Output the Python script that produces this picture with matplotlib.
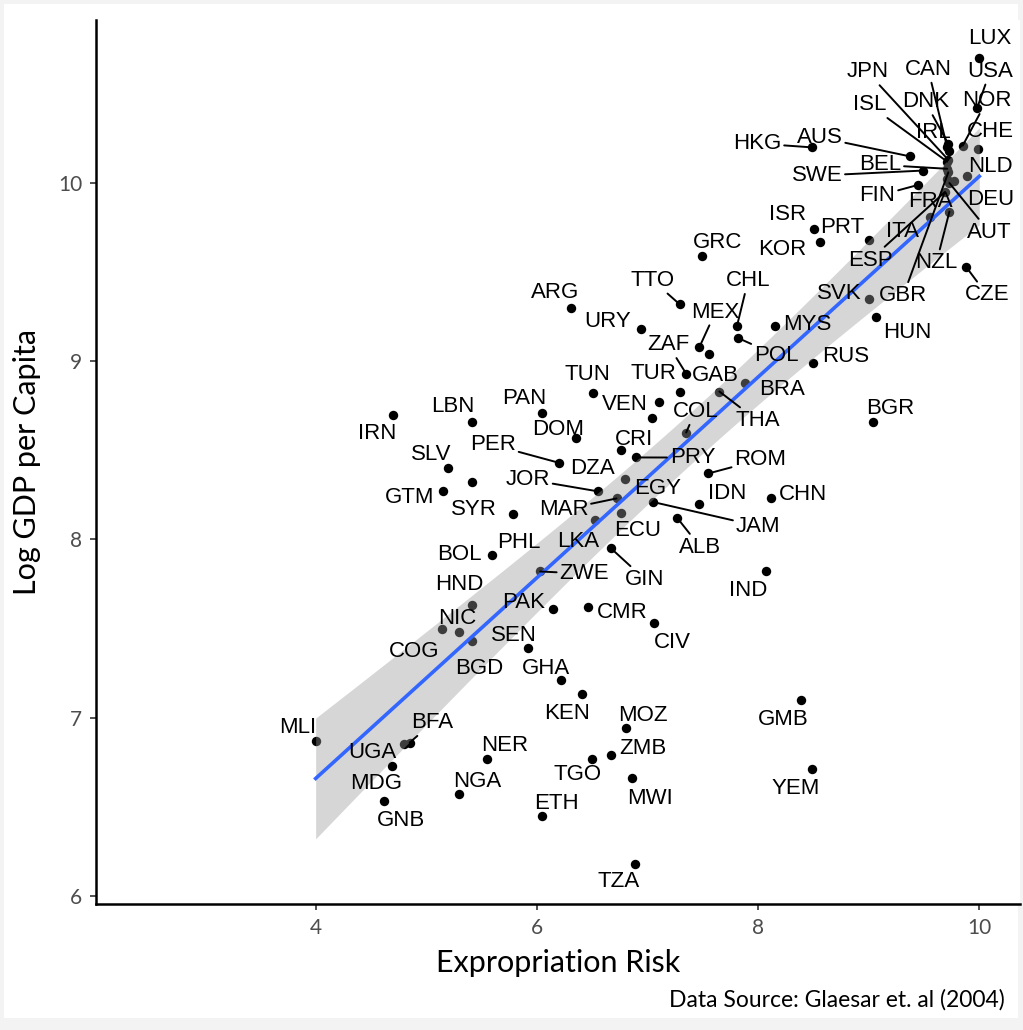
import numpy as np
import matplotlib.pyplot as plt
from matplotlib.patches import Rectangle

# data
countries = ['LUX', 'USA', 'NOR', 'CHE', 'NLD', 'DEU', 'AUT', 'FRA', 'ITA', 'ESP',
             'NZL', 'GBR', 'CZE', 'SVK', 'HUN', 'JPN', 'CAN', 'ISL', 'DNK', 'IRL',
             'BEL', 'SWE', 'FIN', 'AUS', 'HKG', 'ISR', 'PRT', 'KOR', 'GRC', 'ARG',
             'TTO', 'CHL', 'MEX', 'URY', 'MYS', 'ZAF', 'POL', 'GAB', 'RUS', 'TUN',
             'TUR', 'BRA', 'THA', 'PAN', 'VEN', 'COL', 'BGR', 'DOM', 'CRI', 'IRN',
             'LBN', 'PER', 'SLV', 'PRY', 'DZA', 'ROM', 'EGY', 'GTM', 'CHN', 'IDN',
             'JOR', 'SYR', 'MAR', 'JAM', 'ECU', 'ALB', 'PHL', 'LKA', 'BOL', 'GIN',
             'ZWE', 'IND', 'HND', 'PAK', 'CMR', 'NIC', 'CIV', 'SEN', 'COG', 'BGD',
             'GHA', 'KEN', 'MOZ', 'GMB', 'MLI', 'BFA', 'NER', 'ZMB', 'UGA', 'TGO',
             'NGA', 'MDG', 'YEM', 'MWI', 'ETH', 'GNB', 'TZA']
risk = [10.00, 9.98, 9.85, 9.99, 9.89, 9.77, 9.73, 9.71, 9.55, 9.69,
        9.73, 9.72, 9.88, 9.00, 9.07, 9.72, 9.71, 9.71, 9.72, 9.73,
        9.71, 9.49, 9.45, 9.37, 8.49, 8.51, 9.00, 8.56, 7.49, 6.31,
        7.29, 7.81, 7.47, 6.94, 8.15, 7.35, 7.82, 7.56, 8.50, 6.51,
        7.29, 7.88, 7.65, 6.05, 7.10, 7.35, 9.04, 6.35, 7.04, 4.70,
        5.41, 6.20, 5.20, 6.90, 6.76, 7.55, 6.80, 5.15, 8.12, 7.47,
        6.55, 5.41, 6.72, 7.05, 6.76, 7.27, 5.78, 6.53, 5.59, 6.67,
        6.03, 8.07, 5.41, 6.15, 6.46, 5.30, 7.06, 5.92, 5.14, 5.41,
        6.22, 6.41, 6.81, 8.39, 4.00, 4.85, 5.55, 6.67, 4.80, 6.50,
        5.30, 4.69, 8.49, 6.86, 6.05, 4.62, 6.89]
log_gdp = [10.70, 10.42, 10.21, 10.19, 10.04, 10.01, 10.00, 10.02, 9.81, 9.95,
           9.84, 10.06, 9.53, 9.35, 9.25, 10.13, 10.20, 10.12, 10.22, 10.18,
           10.08, 10.07, 9.99, 10.15, 10.20, 9.74, 9.68, 9.67, 9.59, 9.30,
           9.32, 9.20, 9.08, 9.18, 9.20, 8.93, 9.13, 9.04, 8.99, 8.82,
           8.83, 8.88, 8.83, 8.71, 8.77, 8.60, 8.66, 8.57, 8.68, 8.70,
           8.66, 8.43, 8.40, 8.46, 8.50, 8.37, 8.34, 8.27, 8.23, 8.20,
           8.27, 8.32, 8.23, 8.21, 8.15, 8.12, 8.14, 8.11, 7.91, 7.95,
           7.82, 7.82, 7.63, 7.61, 7.62, 7.48, 7.53, 7.39, 7.50, 7.43,
           7.21, 7.13, 6.94, 7.10, 6.87, 6.86, 6.77, 6.79, 6.85, 6.77,
           6.57, 6.73, 6.71, 6.66, 6.45, 6.53, 6.18]

# label placement: offset of label centre from its point in pixels (y down), draw segment?
nudge = {
    'LUX': (11, -22, False), 'USA': (13, -39, True), 'NOR': (24, -47, True),
    'CHE': (12, -20, False), 'NLD': (23, -11, False), 'DEU': (37, 16, False),
    'AUT': (40, 47, True), 'FRA': (-17, 20, False), 'ITA': (-27, 13, False),
    'ESP': (-75, 66, True), 'NZL': (-13, 49, True), 'GBR': (-45, 121, True),
    'CZE': (21, 26, True), 'SVK': (-29, -7, False), 'HUN': (31, 14, False),
    'JPN': (-81, -90, True), 'CAN': (-19, -80, True), 'ISL': (-78, -59, True),
    'DNK': (-23, -44, True), 'IRL': (-16, -21, True), 'BEL': (-67, -6, True),
    'SWE': (-106, 3, True), 'FIN': (-41, 9, True), 'AUS': (-90, -21, True),
    'HKG': (-55, -6, True), 'ISR': (-27, -17, False), 'PRT': (-26, -15, False),
    'KOR': (-38, 6, False), 'GRC': (16, -16, False), 'ARG': (-16, -17, False),
    'TTO': (-27, -26, True), 'CHL': (11, -47, True), 'MEX': (16, -37, True),
    'URY': (-33, -10, False), 'MYS': (33, -3, False), 'ZAF': (-18, -31, True),
    'POL': (38, 15, True), 'GAB': (6, 19, False), 'RUS': (32, -9, False),
    'TUN': (-6, -21, False), 'TUR': (-26, -20, False), 'BRA': (37, 5, False),
    'THA': (38, 27, True), 'PAN': (-18, -16, False), 'VEN': (-34, 0, False),
    'COL': (9, -23, True), 'BGR': (17, -15, False), 'DOM': (-17, -10, False),
    'CRI': (-18, 19, False), 'IRN': (-16, 17, False), 'LBN': (-19, -17, False),
    'PER': (-66, -20, True), 'SLV': (-17, -16, False), 'PRY': (56, -2, True),
    'DZA': (-28, 16, False), 'ROM': (52, -16, True), 'EGY': (32, 8, False),
    'GTM': (-33, 4, False), 'CHN': (32, -6, False), 'IDN': (28, -12, False),
    'JOR': (-70, -14, True), 'SYR': (2, 25, False), 'MAR': (-53, 9, True),
    'JAM': (105, 22, True), 'ECU': (17, 16, False), 'ALB': (23, 27, True),
    'PHL': (6, 26, False), 'LKA': (-17, 20, False), 'BOL': (-32, -3, False),
    'GIN': (34, 29, True), 'ZWE': (44, 0, True), 'IND': (-18, 17, False),
    'HND': (-12, -23, False), 'PAK': (-30, -9, False), 'CMR': (34, 3, False),
    'NIC': (-2, -16, False), 'CIV': (18, 17, False), 'SEN': (-14, -15, False),
    'COG': (-28, 21, False), 'BGD': (8, 25, False), 'GHA': (-15, -14, False),
    'KEN': (-15, 17, False), 'MOZ': (16, -15, False), 'GMB': (-18, 18, False),
    'MLI': (-18, -15, False), 'BFA': (23, -22, True), 'NER': (18, -15, False),
    'ZMB': (32, -9, False), 'UGA': (-32, 6, False), 'TGO': (-15, 14, False),
    'NGA': (18, -15, False), 'MDG': (-16, 16, False), 'YEM': (-17, 17, False),
    'MWI': (18, 18, False), 'ETH': (14, -14, False), 'GNB': (17, 17, False),
    'TZA': (-17, 16, False),
}

x = np.array(risk)
y = np.array(log_gdp)

# linear fit with 95% confidence band
b, a = np.polyfit(x, y, 1)
xs = np.linspace(x.min(), x.max(), 100)
n = len(x)
s = np.sqrt(np.sum((y - (a + b * x)) ** 2) / (n - 2))
se = s * np.sqrt(1 / n + (xs - x.mean()) ** 2 / np.sum((x - x.mean()) ** 2))
fit = a + b * xs
tq = 1.985

fig = plt.figure(figsize=(10.23, 10.30), dpi=100, facecolor='#f3f3f3')
fig.patches.append(Rectangle((4 / 1023, 12 / 1030), 1014 / 1023, 1014 / 1030,
                             transform=fig.transFigure, facecolor='white',
                             edgecolor='none', zorder=-10))
ax = fig.add_axes([96 / 1023, 126 / 1030, 924 / 1023, 884 / 1030])

ax.scatter(x, y, s=46, color='black', zorder=2, linewidths=0)
ax.fill_between(xs, fit - tq * se, fit + tq * se, color='#999999', alpha=0.4,
                linewidth=0, zorder=3)
ax.plot(xs, fit, color='#3366FF', lw=2.6, zorder=4)

for c, xi, yi in zip(countries, risk, log_gdp):
    dx, dy, seg = nudge[c]
    kw = {}
    if seg:
        kw['arrowprops'] = dict(arrowstyle='-', color='black', lw=1.4,
                                shrinkA=0, shrinkB=0)
    ax.annotate(c, (xi, yi), xytext=(dx * 0.72, -dy * 0.72 - 1.5),
                textcoords='offset points', ha='center', va='center',
                fontsize=16, family='Liberation Sans', zorder=5, **kw)

ax.set_xlim(2.014, 10.368)
ax.set_ylim(5.954, 10.915)
ax.set_xticks([4, 6, 8, 10])
ax.set_yticks([6, 7, 8, 9, 10])

for side in ['top', 'right']:
    ax.spines[side].set_visible(False)
for side in ['left', 'bottom']:
    ax.spines[side].set_linewidth(1.8)
ax.tick_params(length=4, width=1.2, color='#333333', labelcolor='#4d4d4d',
               labelsize=15, pad=6)
for lab in ax.get_xticklabels() + ax.get_yticklabels():
    lab.set_family('Lato')

ax.set_xlabel('Expropriation Risk', fontsize=22, family='Lato', labelpad=8)
ax.set_ylabel('Log GDP per Capita', fontsize=22, family='Lato', labelpad=12)
fig.text(1005 / 1023, 1 - 1000 / 1030, 'Data Source: Glaesar et. al (2004)',
         ha='right', va='center', fontsize=16.5, family='Lato')

fig.savefig('out.png', dpi=100, facecolor=fig.get_facecolor())
